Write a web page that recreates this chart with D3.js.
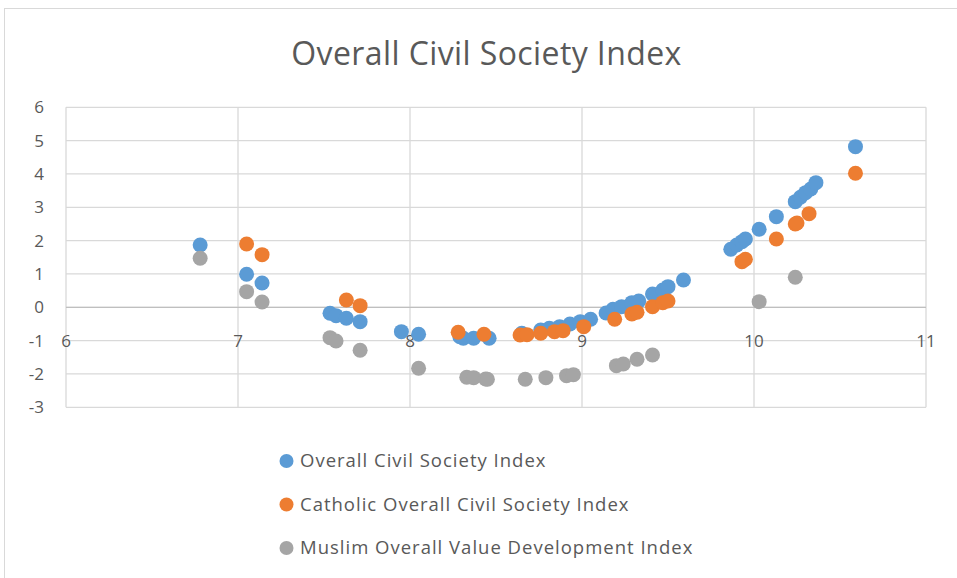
<!DOCTYPE html>
<html><head><meta charset="utf-8">
<script src="https://cdn.jsdelivr.net/npm/d3@7"></script>
<style>body{margin:0;background:#fff}svg{display:block}</style>
</head><body>
<svg id="chart" width="957" height="578"></svg>
<script>
const title = "Overall Civil Society Index";
const seriesNames = ["Overall Civil Society Index","Catholic Overall Civil Society Index","Muslim Overall Value Development Index"];
const seriesColors = ["#5B9BD5","#ED7D31","#A5A5A5"];
const xTicks = [6,7,8,9,10,11];
const yTicks = [-3,-2,-1,0,1,2,3,4,5,6];

const overallX = [6.78,7.05,7.14,7.535,7.57,7.63,7.71,7.95,8.05,8.29,8.31,8.37,8.46,8.65,8.76,8.81,8.87,8.93,8.99,9.05,9.14,9.18,9.23,9.29,9.33,9.41,9.47,9.50,9.59,9.865,9.90,9.93,9.95,10.03,10.13,10.24,10.27,10.30,10.33,10.36,10.59];
const overallY = [1.87,0.99,0.73,-0.18,-0.25,-0.33,-0.43,-0.73,-0.81,-0.88,-0.93,-0.93,-0.93,-0.78,-0.68,-0.63,-0.58,-0.50,-0.43,-0.36,-0.17,-0.06,0.02,0.14,0.19,0.40,0.52,0.62,0.82,1.74,1.87,1.97,2.05,2.34,2.72,3.17,3.30,3.44,3.55,3.74,4.82];

const catholicX = [7.05,7.14,7.63,7.71,8.28,8.43,8.64,8.68,8.76,8.84,8.89,9.01,9.19,9.29,9.32,9.41,9.47,9.50,9.93,9.95,10.13,10.24,10.25,10.32,10.59];
const catholicY = [1.90,1.58,0.22,0.05,-0.75,-0.81,-0.83,-0.82,-0.78,-0.73,-0.70,-0.58,-0.36,-0.20,-0.15,0.02,0.14,0.19,1.37,1.44,2.05,2.50,2.53,2.81,4.02];

const muslimX = [6.78,7.05,7.14,7.535,7.57,7.71,8.05,8.33,8.37,8.44,8.45,8.67,8.79,8.91,8.95,9.20,9.24,9.32,9.41,10.03,10.24];
const muslimY = [1.47,0.47,0.16,-0.91,-1.01,-1.29,-1.83,-2.10,-2.11,-2.15,-2.16,-2.16,-2.11,-2.05,-2.02,-1.75,-1.70,-1.56,-1.43,0.17,0.90];

const series = [
  {name: seriesNames[0], color: seriesColors[0], xs: overallX, ys: overallY},
  {name: seriesNames[1], color: seriesColors[1], xs: catholicX, ys: catholicY},
  {name: seriesNames[2], color: seriesColors[2], xs: muslimX, ys: muslimY}
];

const svg = d3.select("#chart");
const font = "'Open Sans', 'Noto Sans', sans-serif";
const textColor = "#595959";
const grid = "#d9d9d9";

// outer border
svg.append("rect").attr("x",4.5).attr("y",8.5).attr("width",1000).attr("height",1000)
  .attr("fill","none").attr("stroke","#d9d9d9");

const plot = {left:66, right:926, top:107.3, bottom:407.3};
const x = d3.scaleLinear().domain([6,11]).range([plot.left, plot.right]);
const y = d3.scaleLinear().domain([-3,6]).range([plot.bottom, plot.top]);

// gridlines
const g = svg.append("g");
g.selectAll("line.h").data(yTicks).join("line")
  .attr("x1",plot.left).attr("x2",plot.right)
  .attr("y1",d=>y(d)).attr("y2",d=>y(d))
  .attr("stroke",grid).attr("stroke-width",1.3);
g.selectAll("line.v").data(xTicks).join("line")
  .attr("y1",plot.top).attr("y2",plot.bottom)
  .attr("x1",d=>x(d)).attr("x2",d=>x(d))
  .attr("stroke",grid).attr("stroke-width",1.3);
// axis line at y=0
svg.append("line").attr("x1",plot.left).attr("x2",plot.right).attr("y1",y(0)).attr("y2",y(0))
  .attr("stroke","#bfbfbf").attr("stroke-width",1.3);

// y labels
svg.selectAll("text.yl").data(yTicks).join("text")
  .attr("x",44).attr("y",d=>y(d)).attr("dy","0.35em")
  .attr("text-anchor","end").attr("font-family",font).attr("font-size",17)
  .attr("fill",textColor).text(d=>d);
// x labels (placed at y = -1)
svg.selectAll("text.xl").data(xTicks).join("text")
  .attr("x",d=>x(d)).attr("y",y(-1)).attr("dy","0.35em")
  .attr("text-anchor","middle").attr("font-family",font).attr("font-size",17)
  .attr("fill",textColor).text(d=>d);

// points
series.forEach(s=>{
  svg.append("g").selectAll("circle").data(s.xs.map((v,i)=>[v,s.ys[i]])).join("circle")
    .attr("cx",d=>x(d[0])).attr("cy",d=>y(d[1])).attr("r",7.5).attr("fill",s.color);
});

// title
svg.append("text").attr("x",486.5).attr("y",64.5).attr("text-anchor","middle")
  .attr("font-family",font).attr("font-size",32).attr("letter-spacing",0.4)
  .attr("fill",textColor).text(title);

// legend
const legend = svg.append("g");
series.forEach((s,i)=>{
  const ly = 461 + i*43.5;
  legend.append("circle").attr("cx",286.5).attr("cy",ly).attr("r",7).attr("fill",s.color);
  legend.append("text").attr("x",300).attr("y",ly).attr("dy","0.35em")
    .attr("font-family",font).attr("font-size",18.5).attr("letter-spacing",1)
    .attr("fill",textColor).text(s.name);
});
</script>
</body></html>
